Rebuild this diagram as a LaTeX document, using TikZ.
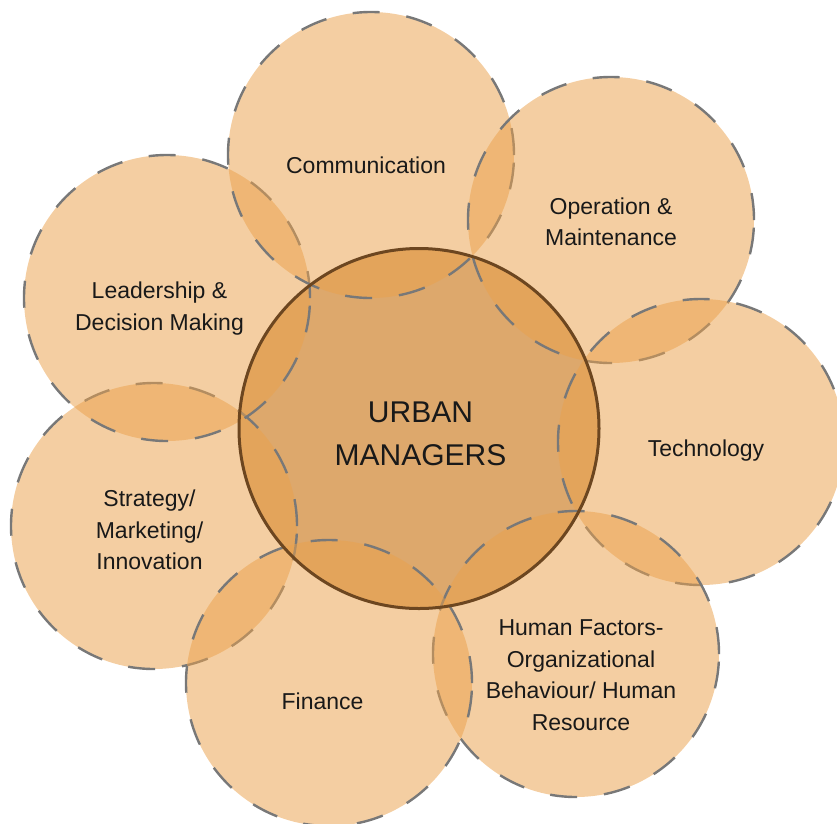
\documentclass[tikz,border=0pt]{standalone}
\usepackage{fontspec}
\setmainfont{Liberation Sans}
\definecolor{petalfill}{RGB}{234,161,76}
\definecolor{corefill}{RGB}{221,168,108}
\definecolor{coreline}{RGB}{108,70,32}
\definecolor{dashgray}{RGB}{120,120,120}
\definecolor{ink}{RGB}{25,25,25}
\tikzset{
  petal/.style={circle, inner sep=0pt, minimum size=286pt, fill=petalfill, fill opacity=0.52,
    draw=dashgray, draw opacity=1, line width=2.4pt, dash pattern=on 27pt off 27pt},
  core/.style={circle, inner sep=0pt, minimum size=360pt, fill=corefill},
  coreedge/.style={circle, inner sep=0pt, minimum size=360pt, draw=coreline, line width=3pt},
  lbl/.style={inner sep=0pt, align=center, text=ink, font=\fontsize{23}{31.5}\selectfont},
  corelbl/.style={inner sep=0pt, align=center, text=ink, font=\fontsize{30}{43}\selectfont}
}
\begin{document}
\begin{tikzpicture}[x=1pt,y=-1pt]
\useasboundingbox (0,0) rectangle (837,823);
\node[core] (core) at (419,428.5) {};
\node[petal] (strat) at (154,526) {};
\node[petal] (lead) at (167,298) {};
\node[petal] (comm) at (371,155) {};
\node[petal] (oper) at (611,220) {};
\node[petal] (tech) at (701,442) {};
\node[petal] (human) at (576,654) {};
\node[petal] (fin) at (329,683) {};
\node[coreedge] (coreedge) at (core.center) {};
\node[lbl] (commtxt) at (366,165) {Communication};
\node[lbl] (opertxt) at (611,222) {Operation \&\\Maintenance};
\node[lbl] (leadtxt) at (159.5,308.5) {Leadership \&\\Decision Making};
\node[lbl] (techtxt) at (706,450.7) {Technology};
\node[lbl] (strattxt) at (149.5,530) {Strategy/\\Marketing/\\Innovation};
\node[lbl] (fintxt) at (322.5,701) {Finance};
\node[lbl] (humantxt) at (581,675) {Human Factors-\\Organizational\\Behaviour/ Human\\Resource};
\node[corelbl] (coretxt) at (420.5,434) {URBAN\\MANAGERS};
\end{tikzpicture}
\end{document}
